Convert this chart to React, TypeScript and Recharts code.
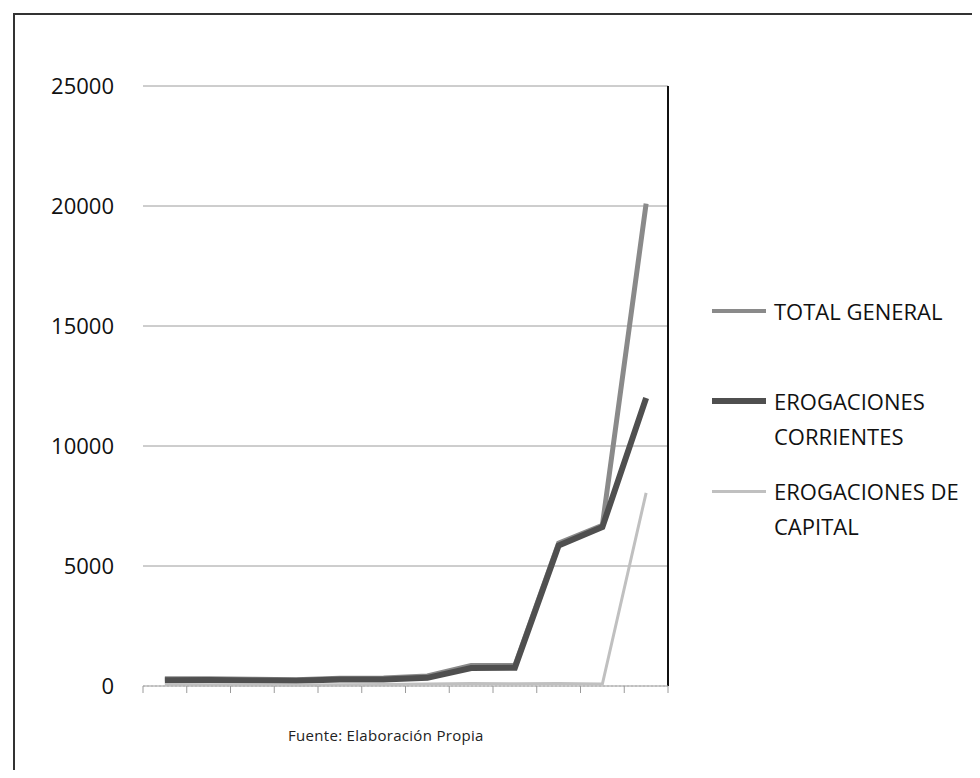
import { LineChart, Line, XAxis, YAxis, CartesianGrid, ReferenceLine } from 'recharts';

// periods have no printed labels in the source, only tick marks between them
const periods = [1, 2, 3, 4, 5, 6, 7, 8, 9, 10, 11, 12];
const totalGeneral = [300, 300, 280, 260, 320, 330, 420, 850, 850, 5950, 6700, 20100];
const erogacionesCorrientes = [240, 250, 230, 220, 270, 270, 340, 750, 760, 5850, 6620, 12000];
const erogacionesCapital = [60, 50, 50, 40, 50, 60, 80, 100, 90, 100, 80, 8050];

const yTicks = [0, 5000, 10000, 15000, 20000, 25000];
const xTicks = [0.5, 1.5, 2.5, 3.5, 4.5, 5.5, 6.5, 7.5, 8.5, 9.5, 10.5, 11.5, 12.5];

const seriesNames = ['TOTAL GENERAL', 'EROGACIONES CORRIENTES', 'EROGACIONES DE CAPITAL'];

const data = periods.map((p, i) => ({
  period: p,
  total: totalGeneral[i],
  corrientes: erogacionesCorrientes[i],
  capital: erogacionesCapital[i]
}));

const FONT = '"Open Sans", "DejaVu Sans", sans-serif';

const legendItems = [
  { lines: ['TOTAL GENERAL'], color: '#8a8a8a', width: 4, top: 286 },
  { lines: ['EROGACIONES', 'CORRIENTES'], color: '#4f4f4f', width: 6, top: 376 },
  { lines: ['EROGACIONES DE', 'CAPITAL'], color: '#c0c0c0', width: 3, top: 466 }
];

export default function App() {
  return (
    <div style={{ position: 'relative', width: 964, height: 762, overflow: 'hidden', fontFamily: FONT, background: '#fff' }}>
      {/* scanned page frame */}
      <div
        style={{
          position: 'absolute',
          left: 5,
          top: 5,
          width: 1000,
          height: 800,
          borderTop: '2px solid #333',
          borderLeft: '2px solid #333'
        }}
      />
      <div style={{ position: 'absolute', left: 0, top: 0 }}>
        <LineChart
          width={960}
          height={740}
          data={data}
          margin={{ top: 78, right: 300, left: 55, bottom: 32 }}
        >
          <CartesianGrid vertical={false} stroke="#9c9c9c" strokeWidth={1} />
          <XAxis
            dataKey="period"
            type="number"
            domain={[0.5, 12.5]}
            ticks={xTicks}
            tickFormatter={() => ''}
            tickLine={{ stroke: '#9a9a9a' }}
            tickSize={7}
            axisLine={{ stroke: '#b0b0b0', strokeDasharray: '2 2' }}
            height={30}
          />
          <YAxis
            domain={[0, 25000]}
            ticks={yTicks}
            axisLine={false}
            tickLine={false}
            width={80}
            tick={{ fontSize: 22, fill: '#111', fontFamily: FONT }}
            dx={-21}
          />
          {/* dark frame line on the right edge of the plot */}
          <ReferenceLine x={12.5} stroke="#111" strokeWidth={2} />
          <Line
            name={seriesNames[0]}
            dataKey="total"
            stroke="#8a8a8a"
            strokeWidth={5}
            dot={false}
            type="linear"
            isAnimationActive={false}
          />
          <Line
            name={seriesNames[1]}
            dataKey="corrientes"
            stroke="#4f4f4f"
            strokeWidth={6}
            dot={false}
            type="linear"
            isAnimationActive={false}
          />
          <Line
            name={seriesNames[2]}
            dataKey="capital"
            stroke="#c0c0c0"
            strokeWidth={3}
            dot={false}
            type="linear"
            isAnimationActive={false}
          />
        </LineChart>
      </div>

      {/* legend */}
      {legendItems.map((item) => (
        <div key={item.lines.join(' ')} style={{ position: 'absolute', left: 704, top: item.top }}>
          <div
            style={{
              position: 'absolute',
              left: 0,
              top: 17 - item.width / 2,
              width: 54,
              height: item.width,
              background: item.color
            }}
          />
          <div style={{ position: 'absolute', left: 62, top: 0, fontSize: 22, lineHeight: '35px', color: '#111', whiteSpace: 'nowrap' }}>
            {item.lines.map((l) => (
              <div key={l}>{l}</div>
            ))}
          </div>
        </div>
      ))}

      <div style={{ position: 'absolute', left: 280, top: 717, fontSize: 15, lineHeight: '20px', color: '#222', letterSpacing: 0.3 }}>
        Fuente: Elaboración Propia
      </div>
    </div>
  );
}
